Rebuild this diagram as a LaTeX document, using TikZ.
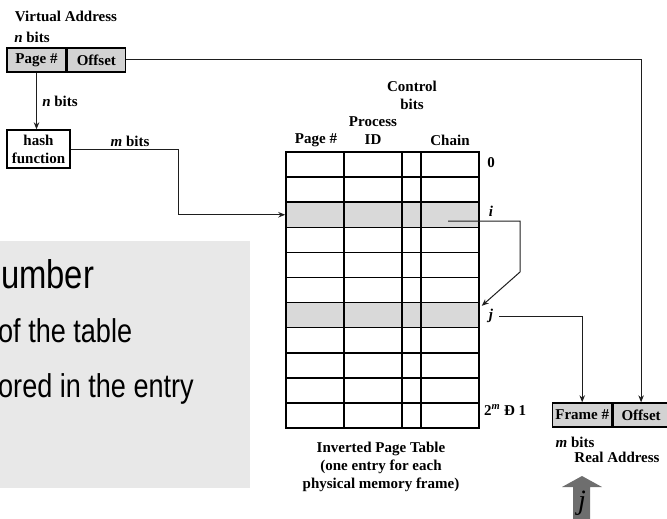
\documentclass[tikz,border=0pt]{standalone}
\usepackage{fontspec}
\setmainfont{Liberation Serif}
\newfontfamily\slidefont[FakeStretch=0.82]{Liberation Sans}
\usepackage{xcolor}
\usetikzlibrary{arrows.meta,positioning}
\definecolor{cellgray}{HTML}{D2D2D2}
\definecolor{rowgray}{HTML}{D9D9D9}
\definecolor{overlaygray}{HTML}{E8E8E8}
\definecolor{bigarrowgray}{HTML}{6E6E6E}
\definecolor{linegray}{HTML}{1E1E1E}

\begin{document}
\begin{tikzpicture}[
  x=1pt,
  y=-1pt,
  every node/.style={
    inner sep=0pt,
    align=center,
    font=\fontsize{15}{18}\selectfont\bfseries
  },
  field/.style={
    draw=black,
    fill=cellgray,
    line width=1.4pt,
    minimum height=24,
    inner sep=1pt
  },
  plainbox/.style={
    draw=black,
    fill=white,
    line width=1.4pt,
    inner sep=1pt
  },
  tablerow/.style={
    draw=black,
    line width=1.5pt,
    minimum width=193,
    minimum height=25.1
  },
  tableline/.style={
    draw=black,
    line width=1.5pt
  },
  link/.style={
    -{Stealth[length=7pt,width=5.5pt]},
    draw=linegray,
    line width=1pt
  },
  slidetext/.style={
    anchor=base west,
    align=left,
    text=black,
    font=\slidefont\fontsize{33}{36}\selectfont
  }
]
\useasboundingbox (0,0) rectangle (667,519);

% Virtual address
\node (vtitle) at (66,16) {Virtual Address};
\node (vbits)  at (32,37) {\textit{n} bits};
\node[field, minimum width=59] (vpage) at (36.5,60) {Page \#};
\node[field, minimum width=58, anchor=west] (voff) at (vpage.east) {Offset};

% Hash function
\node[plainbox, minimum width=63, minimum height=38] (hash) at (38.5,149) {hash\\function};
\node (nbits) at (60,101) {\textit{n} bits};
\node (mbits) at (130,141) {\textit{m} bits};

% Inverted page table, rows top to bottom
\foreach \r in {0,...,10}{
  \ifnum\r=2 \def\rowfill{rowgray}\else\ifnum\r=6 \def\rowfill{rowgray}\else\def\rowfill{white}\fi\fi
  \node[tablerow, fill=\rowfill] (row\r) at (382.5,{164.55+25.1*\r}) {};
}
\foreach \cx in {344,402,421}
  \draw[tableline] (\cx,152) -- (\cx,428);

% Column headers
\node (hpage)  at (316,140) {Page \#};
\node (hproc)  at (373,131) {Process\\ID};
\node (hctrl)  at (412,95)  {Control\\bits};
\node (hchain) at (450,140) {Chain};

% Row labels
\node (lzero) at (491,163) {0};
\node (ilbl)  at (491,211) {\textit{i}};
\node (jlbl)  at (491,316) {\textit{j}};
\node[anchor=west] (llast) at (484,410) {2\textsuperscript{\textit{m}} Ð 1};

\node (caption) at (381,467) {Inverted Page Table\\(one entry for each\\physical memory frame)};

% Real address
\node[field, minimum width=59, anchor=west] (rframe) at (552,415) {Frame \#};
\node[field, minimum width=56, anchor=west] (roff) at (rframe.east) {Offset};
\node (rbits)  at (575,442) {\textit{m} bits};
\node (rtitle) at (617,457) {Real Address};

% Connectors
\coordinate (mdrop) at (178,0);
\coordinate (chainstart) at (448,221);
\coordinate (chainbend) at (520,272);
\draw[link] (vpage.south) -- (vpage.south |- hash.north);
\draw[link] (hash.east) -| (mdrop |- row2.west) -- (row2.west);
\draw[link] (voff.east) -| (roff.north);
\draw[link] (chainstart) -| (chainbend) -- ([xshift=2pt,yshift=-4pt]row6.north east);
\draw[link] ([xshift=6pt]jlbl.east) -| (rframe.north);

% Slide overlay
\begin{scope}
  \clip (0,241) rectangle (250,488);
  \fill[overlaygray] (0,241) rectangle (250,488);
  \node[slidetext, font=\slidefont\fontsize{40}{42}\selectfont] (sline1) at (1,288) {umber};
  \node[slidetext] (sline2) at (-2,342) {of the table};
  \node[slidetext] (sline3) at (-2,397) {ored in the entry};
\end{scope}

% Big arrow
\fill[bigarrowgray] (573,519) -- (573,487) -- (562,487) -- (582,476) -- (602,487) -- (590,487) -- (590,519) -- cycle;
\node[font=\fontsize{28}{30}\selectfont\itshape] (bigj) at (582,503) {j};

\end{tikzpicture}
\end{document}
